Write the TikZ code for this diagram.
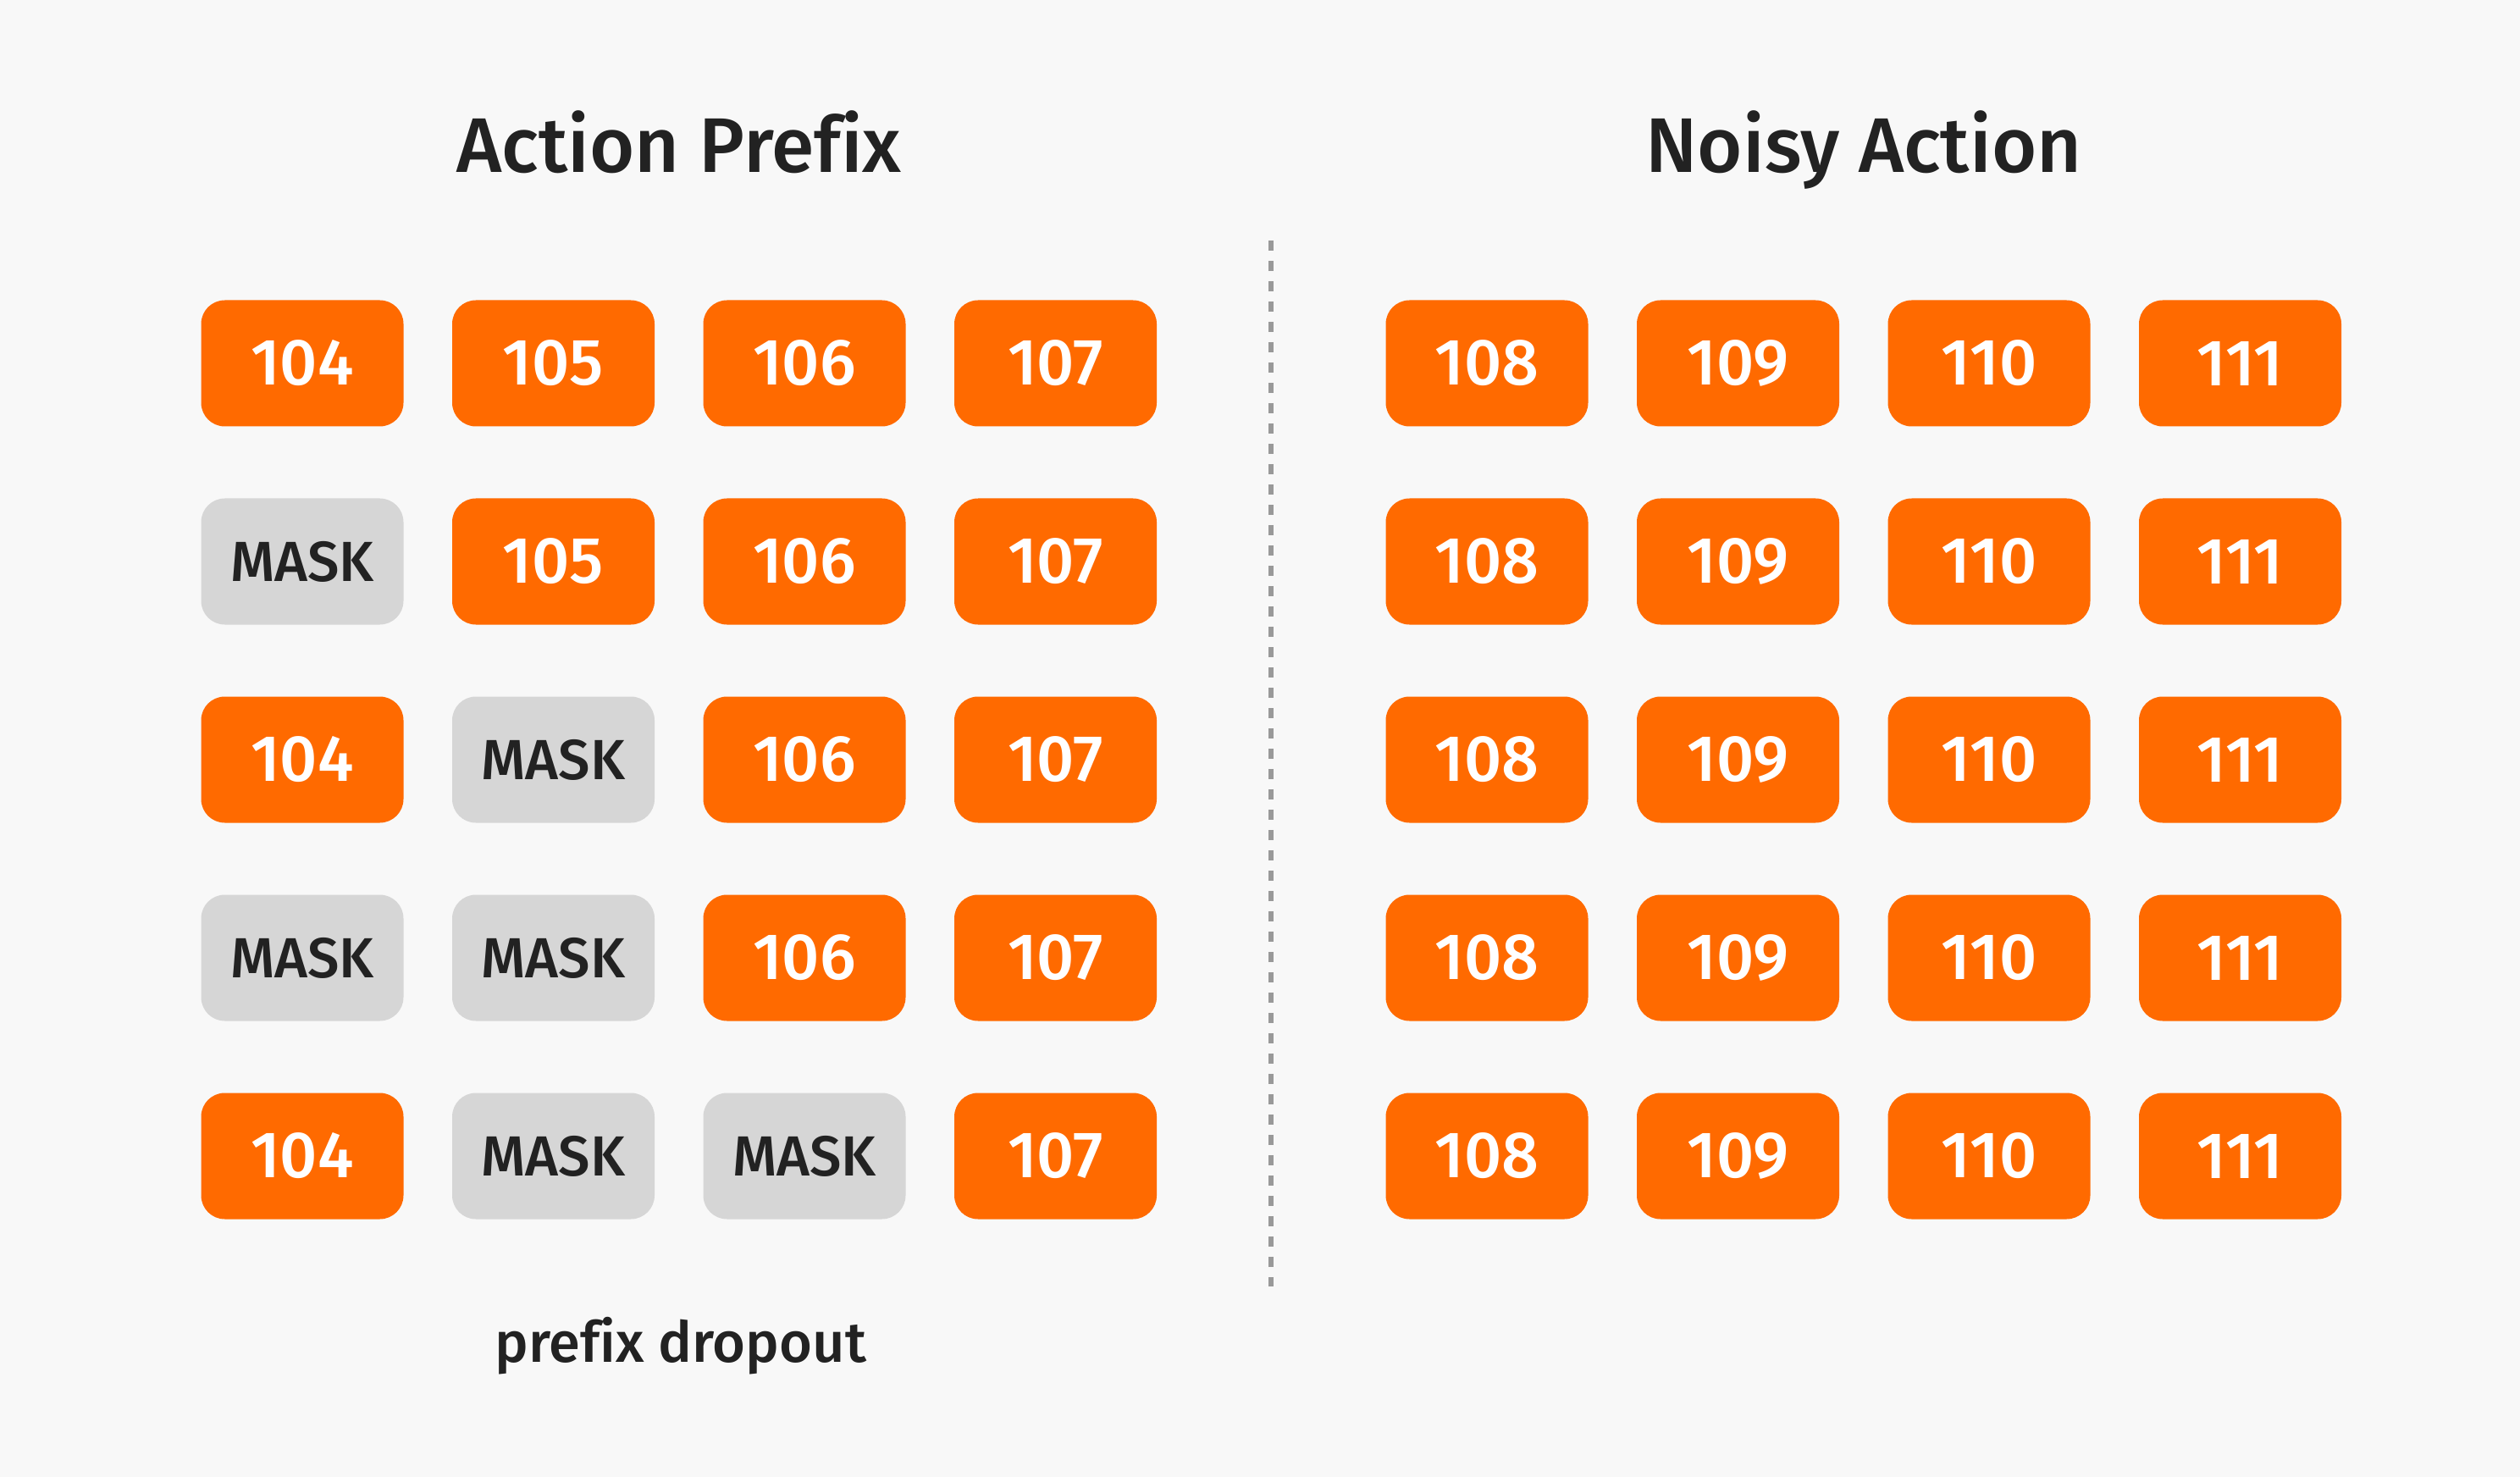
\documentclass[tikz,border=0pt]{standalone}
\usepackage{fontspec}
\setmainfont{Fira Sans Medium}[Ligatures=NoCommon]
\usetikzlibrary{calc}
\definecolor{tokorange}{HTML}{FF6A00}
\definecolor{maskgray}{HTML}{D6D6D6}
\definecolor{inkdark}{HTML}{222222}
\definecolor{dashgray}{HTML}{999999}
\definecolor{bggray}{HTML}{F8F8F8}
\tikzset{
  cell/.style={rounded corners=0.28cm,minimum width=2.39cm,minimum height=1.49cm,inner sep=0pt,font=\fontsize{22}{24}\selectfont},
  tok/.style={cell,fill=tokorange,text=white},
  mask/.style={cell,fill=maskgray,text=inkdark,font=\fontsize{19}{22}\selectfont},
  heading/.style={anchor=base,text=inkdark,font=\fontsize{26}{30}\selectfont}
}
\begin{document}
\begin{tikzpicture}
    \fill [bggray] (0,0) rectangle (29.76,-17.44);
    \useasboundingbox (0,0) rectangle (29.76,-17.44);
    \node [heading] (title-prefix) at (8.02,-2.04) {Action Prefix};
    \node [heading] (title-noisy) at (22.01,-2.04) {Noisy Action};
    % action prefix, with dropped tokens
    \foreach \row [count=\r] in {{tok/104,tok/105,tok/106,tok/107},
                                 {mask/MASK,tok/105,tok/106,tok/107},
                                 {tok/104,mask/MASK,tok/106,tok/107},
                                 {mask/MASK,mask/MASK,tok/106,tok/107},
                                 {tok/104,mask/MASK,mask/MASK,tok/107}}
        \foreach \s/\t [count=\c] in \row
            \node [\s] (P-\r-\c) at ({3.57+(\c-1)*2.965},{-4.29-(\r-1)*2.34}) {\t};
    % noisy action
    \foreach \r in {1,...,5}
        \foreach \c in {1,...,4}
            \node [tok] (N-\r-\c) at ({17.56+(\c-1)*2.965},{-4.29-(\r-1)*2.34}) {\the\numexpr107+\c\relax};
    \coordinate (S-top) at (15.01,-2.84);
    \coordinate (S-bot) at (15.01,-15.19);
    \draw [dashgray,line width=0.06cm,dash pattern=on 0.12cm off 0.12cm] (S-top) -- (S-bot);
    \node [heading,font=\fontsize{19}{22}\selectfont] (dropout) at (8.04,-16.08) {prefix dropout};
\end{tikzpicture}
\end{document}
